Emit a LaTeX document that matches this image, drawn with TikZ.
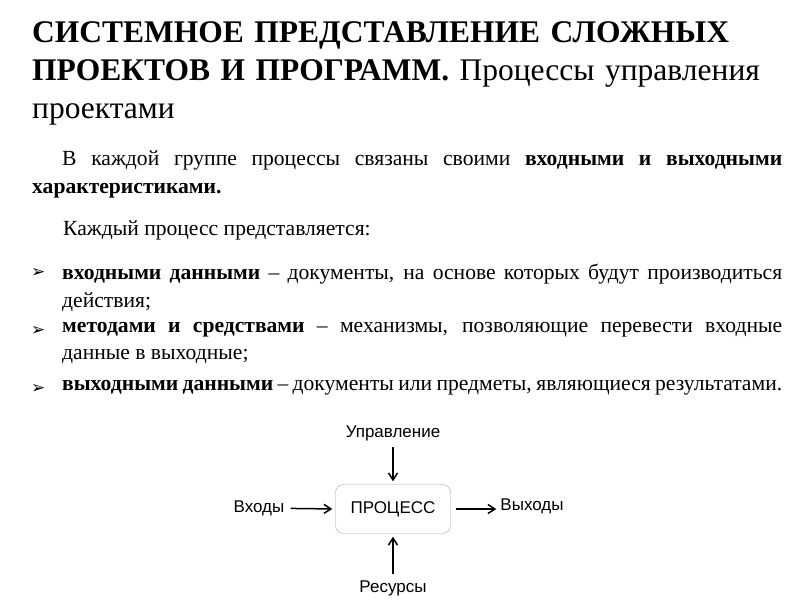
\documentclass[tikz,border=0pt]{standalone}
\usepackage{fontspec}
\setmainfont{Liberation Serif}
\newfontfamily\diag{Liberation Sans}
\newfontfamily\sym{DejaVu Sans}
\usetikzlibrary{arrows.meta}
\begin{document}
\begin{tikzpicture}[x=1pt,y=-1pt,
  para/.style={anchor=north west,inner sep=0pt,align=justify,font=\fontsize{21.6}{27.5}\selectfont},
  lbl/.style={font=\diag\fontsize{17}{19}\selectfont,inner sep=1pt},
  arr/.style={->,>={Straight Barb[length=7pt,width=9pt]},line width=1.5pt,shorten <=5pt,shorten >=3pt}]
\useasboundingbox[fill=white] (0,0) rectangle (800,600);
\node[anchor=north west,inner sep=0pt,text width=760,align=left,font=\fontsize{31.5}{38}\selectfont] (title) at (32,21)
 {\textbf{СИСТЕМНОЕ ПРЕДСТАВЛЕНИЕ СЛОЖНЫХ ПРОЕКТОВ И ПРОГРАММ.} Процессы управления проектами};
\node[para,text width=750] (p1) at (32,151) {\parindent=30pt\indent В каждой группе процессы связаны своими \textbf{входными и выходными характеристиками.}};
\node[para,text width=700] (p2) at (63,221) {Каждый процесс представляется:};
\node[para,text width=720] (b1) at (62,264) {\textbf{входными данными} – документы, на основе которых будут производиться действия;};
\node[para,text width=720] (b2) at (62,322) {\textbf{методами и средствами} – механизмы, позволяющие перевести входные данные в выходные;};
\node[para,text width=720] (b3) at (62,380) {\textbf{выходными данными} – документы или предметы, являющиеся результатами.};
\foreach \y/\n in {273/m1,331/m2,389/m3}
  \node[anchor=west,inner sep=0pt,font=\sym\bfseries\fontsize{17}{17}\selectfont] (\n) at (31,\y) {➢};
\node[draw=gray!70,rounded corners=8pt,minimum width=115,minimum height=49,font=\diag\fontsize{17}{19}\selectfont] (pr) at (393,509) {ПРОЦЕСС};
\node[lbl] (u) at (393,433) {Управление};
\node[lbl] (vh) at (259,508) {Входы};
\node[lbl] (vy) at (532,506) {Выходы};
\node[lbl] (r) at (393,588) {Ресурсы};
\draw[arr] (u) -- (pr.north);
\draw[arr] (vh) -- (pr.west);
\draw[arr] (pr.east) -- (vy.west|-pr.east);
\draw[arr] (r) -- (pr.south);
\end{tikzpicture}
\end{document}
